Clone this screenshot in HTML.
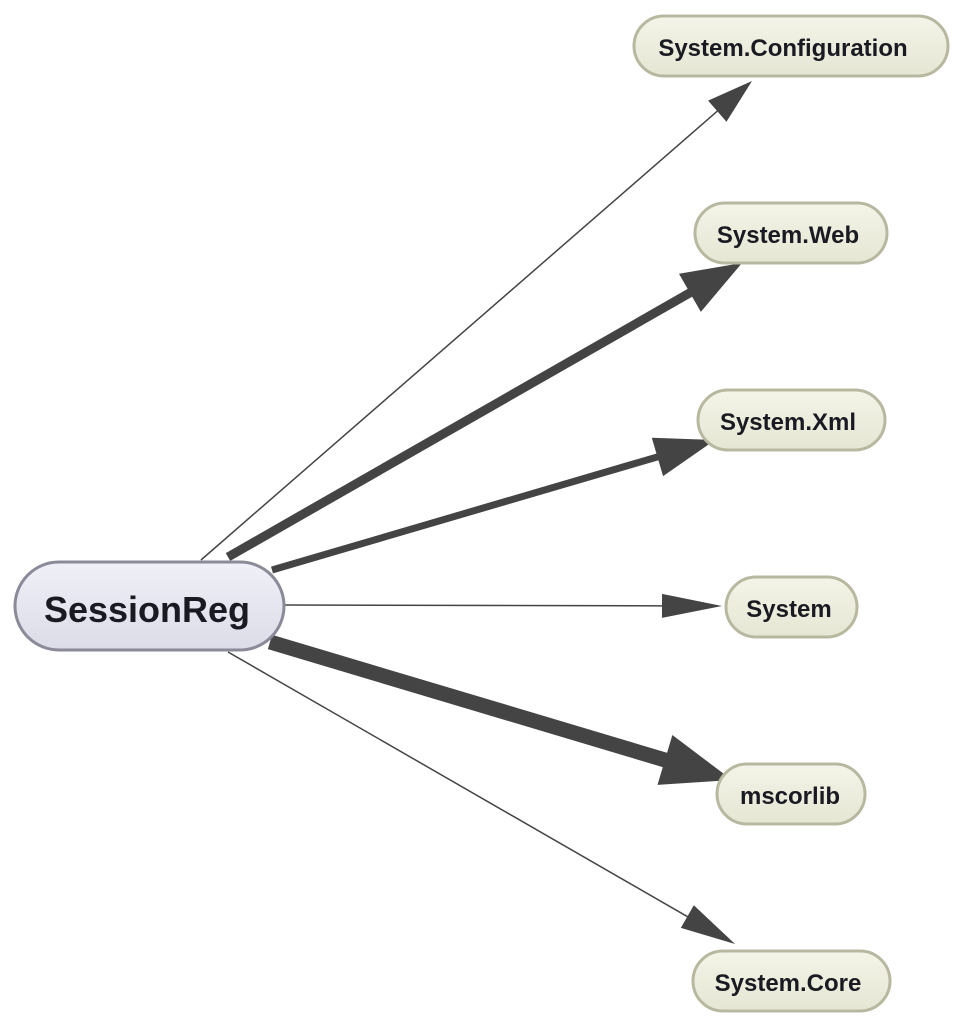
<!DOCTYPE html>
<html><head><meta charset="utf-8"><style>
html,body{margin:0;padding:0;background:#fff;width:963px;height:1024px;overflow:hidden}
svg{display:block}
text{font-family:"Liberation Sans",Arial,sans-serif;font-weight:bold;fill:#1a1a22}
</style></head><body>
<svg id="s" width="963" height="1024" viewBox="0 0 963 1024" xmlns="http://www.w3.org/2000/svg">
<defs>
<linearGradient id="gm" x1="0" y1="0" x2="0" y2="1"><stop offset="0" stop-color="#f0f0f8"/><stop offset="1" stop-color="#dcdce8"/></linearGradient>
<linearGradient id="gn" x1="0" y1="0" x2="0" y2="1"><stop offset="0" stop-color="#f4f4e8"/><stop offset="1" stop-color="#e6e6d4"/></linearGradient>
</defs>
<g id="edges"></g>
<rect x="15" y="562" width="269" height="88" rx="44" fill="url(#gm)" stroke="#8a8a98" stroke-width="3"/>
<text x="147" y="622" font-size="36" text-anchor="middle">SessionReg</text>
<rect x="634" y="16" width="314" height="60" rx="30" fill="url(#gn)" stroke="#b8b8a0" stroke-width="3"/>
<text x="783" y="56" font-size="24" text-anchor="middle">System.Configuration</text>
<rect x="695" y="203" width="192" height="60" rx="30" fill="url(#gn)" stroke="#b8b8a0" stroke-width="3"/>
<text x="788" y="243" font-size="24" text-anchor="middle">System.Web</text>
<rect x="698" y="390" width="187" height="60" rx="30" fill="url(#gn)" stroke="#b8b8a0" stroke-width="3"/>
<text x="788" y="430" font-size="24" text-anchor="middle">System.Xml</text>
<rect x="726" y="577" width="131" height="60" rx="30" fill="url(#gn)" stroke="#b8b8a0" stroke-width="3"/>
<text x="789" y="617" font-size="24" text-anchor="middle">System</text>
<rect x="717" y="764" width="148" height="60" rx="30" fill="url(#gn)" stroke="#b8b8a0" stroke-width="3"/>
<text x="790" y="804" font-size="24" text-anchor="middle">mscorlib</text>
<rect x="693" y="951" width="197" height="60" rx="30" fill="url(#gn)" stroke="#b8b8a0" stroke-width="3"/>
<text x="788" y="991" font-size="24" text-anchor="middle">System.Core</text>
</svg>
<script>
var E=[[201,560,752,81,1.5,46,14],[228,557,742,263,9,60,22],[272,570,715,440,7,60,20],[284,605,722,606,1.5,60,12],[270,642,732,780,15,70,26],[228,652,735,944,1.5,55,13]];
var g=document.getElementById('edges'),h='';
E.forEach(function(e){var dx=e[2]-e[0],dy=e[3]-e[1],L=Math.hypot(dx,dy),ux=dx/L,uy=dy/L,bx=e[2]-ux*e[5],by=e[3]-uy*e[5],px=-uy*e[6],py=ux*e[6];
h+='<line x1="'+e[0]+'" y1="'+e[1]+'" x2="'+(bx+ux*2)+'" y2="'+(by+uy*2)+'" stroke="#444" stroke-width="'+e[4]+'"/>';
h+='<polygon points="'+e[2]+','+e[3]+' '+(bx+px)+','+(by+py)+' '+(bx-px)+','+(by-py)+'" fill="#444"/>';});
g.innerHTML=h;
</script>
</body></html>
